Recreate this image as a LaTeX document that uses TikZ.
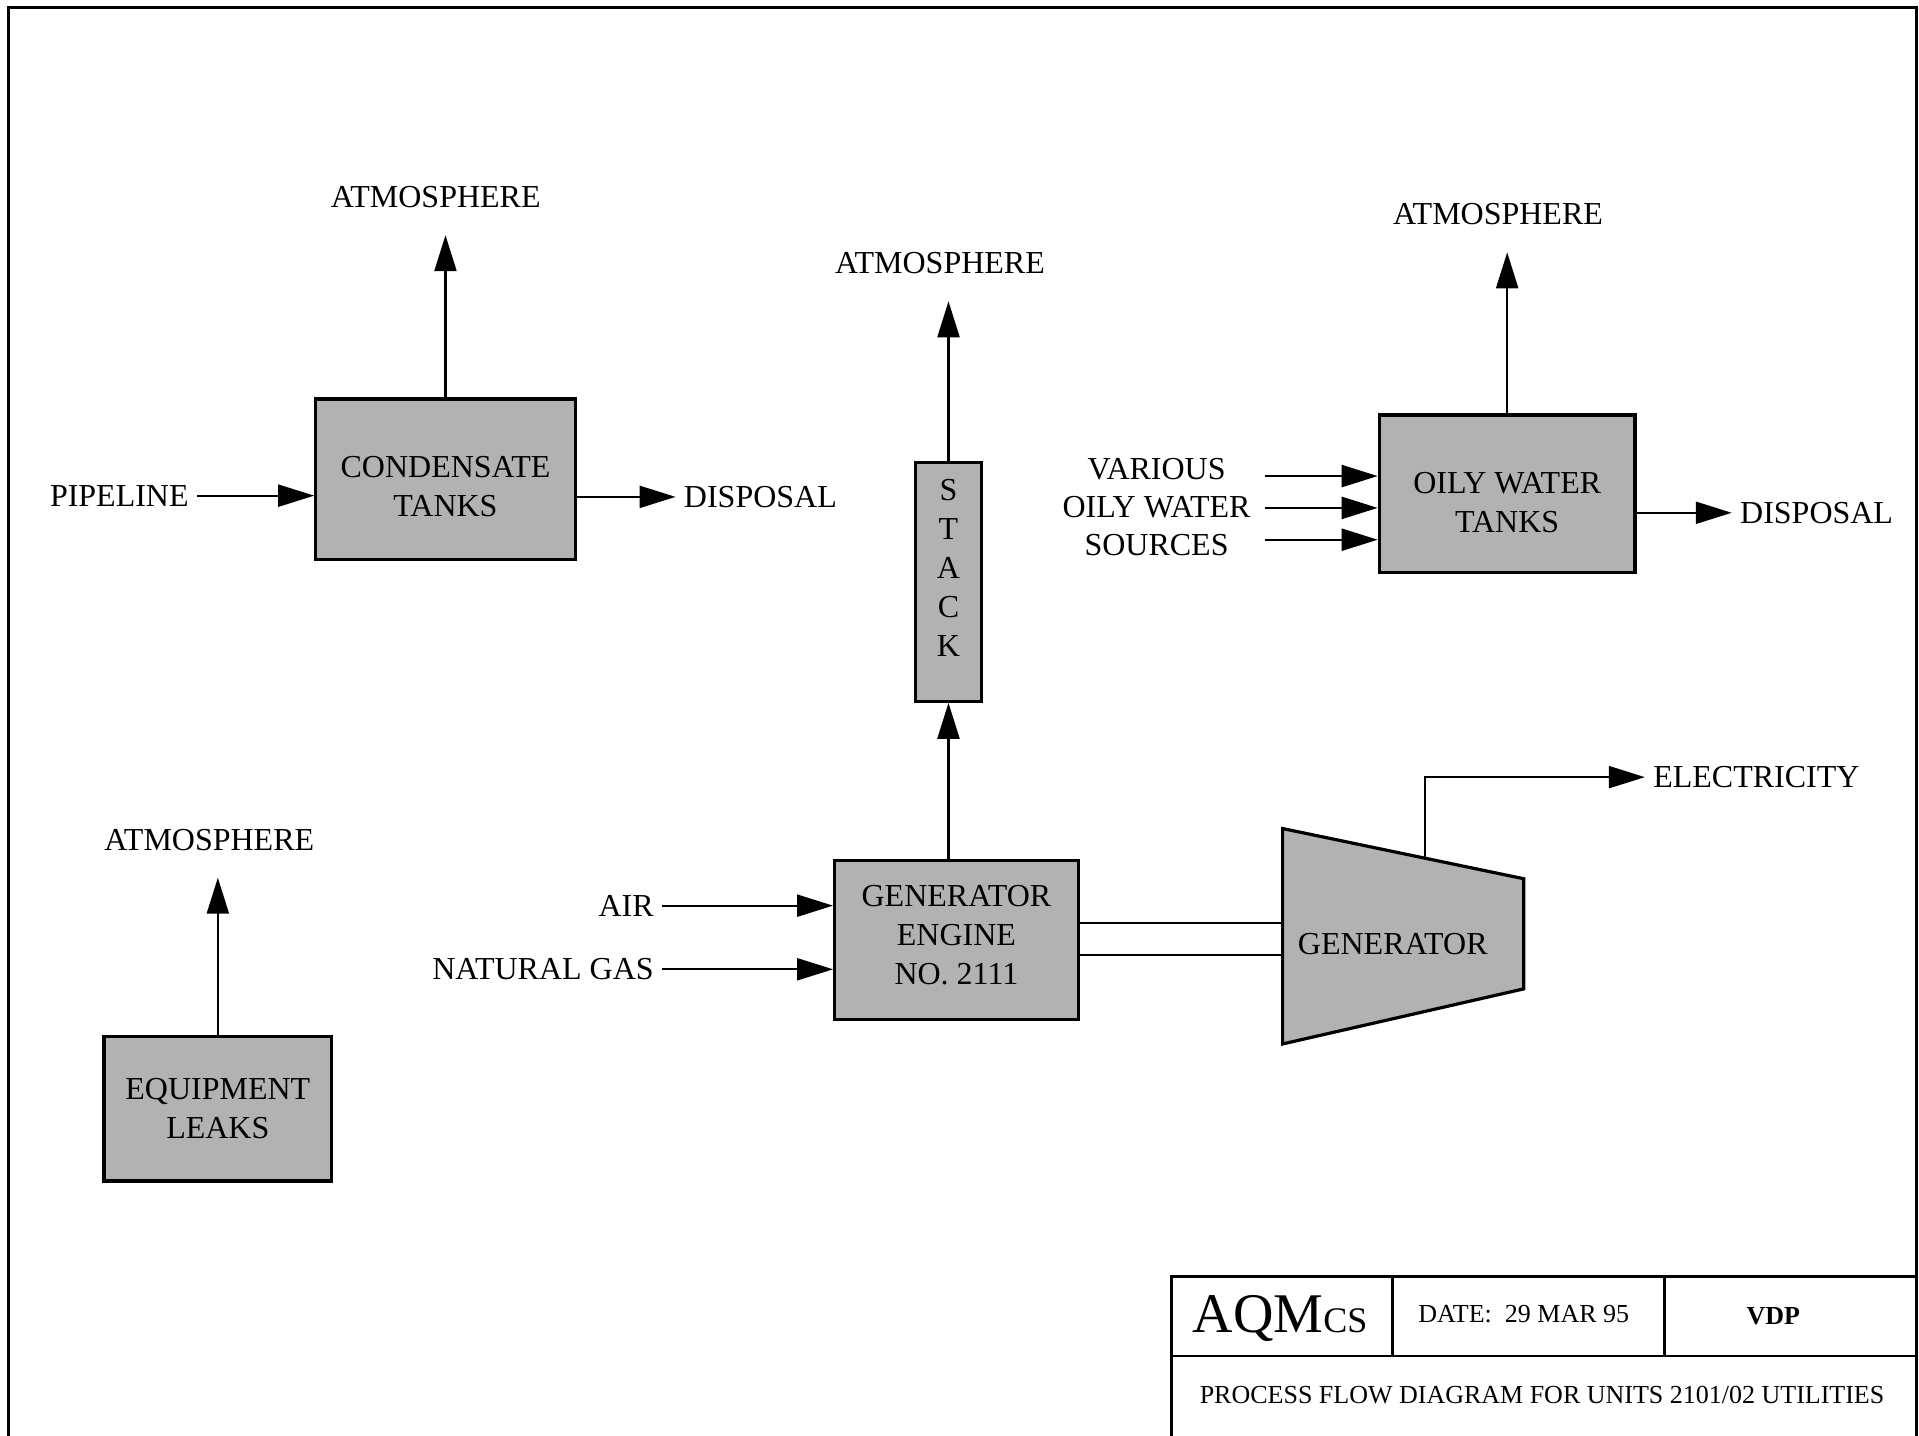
\documentclass[tikz,border=0pt]{standalone}
\usepackage{fontspec}
\setmainfont{Liberation Serif}
\usetikzlibrary{arrows.meta}
\usetikzlibrary{positioning}
\usetikzlibrary{calc}

\newcommand{\lbl}{\fontsize{16}{19.5}\selectfont}
\newcommand{\tblk}{\fontsize{13}{15}\selectfont}

\tikzset{
  unit/.style={draw, line width=1.6pt, fill=black!30, align=center, inner sep=0pt, font=\lbl},
  tag/.style={font=\lbl, inner xsep=4pt, inner ysep=2pt, align=center},
  flow/.style={-{Triangle[length=18pt,width=11pt]}, line width=1.1pt},
  up/.style={flow, shorten >=11.5pt},
  shaft/.style={line width=1.1pt},
  rule/.style={line width=1.3pt}
}

\begin{document}
\begin{tikzpicture}[x=0.612pt, y=-0.612pt]
\useasboundingbox (0,0) rectangle (1568,1173);
\draw[rule] (7,1173) -- (7,6) -- (1566,6) -- (1566,1173);

% condensate tanks
\node[unit, minimum width=129.7pt, minimum height=80.2pt, text height=37.5pt] (cond) at (364,391.5) {CONDENSATE\\TANKS};
\node[tag] (atmA) at (356,161) {ATMOSPHERE};
\node[tag, anchor=east] (pipe) at (161,405) {PIPELINE};
\node[tag, anchor=west] (dispA) at (552,406) {DISPOSAL};
\draw[up] (cond.north) -- (cond.north |- atmA.south);
\draw[flow] (pipe.east) -- (pipe.east -| cond.west);
\draw[flow] (cond.east |- dispA.west) -- (dispA.west);

% engine and stack
\node[unit, minimum width=33pt, minimum height=119.3pt, text depth=14pt] (stk) at (775,475.5) {S\\T\\A\\C\\K};
\node[unit, minimum width=121.8pt, minimum height=79.6pt, text depth=4.9pt] (eng) at (781.5,768) {GENERATOR\\ENGINE\\NO. 2111};
\node[tag] (atmB) at (768,215) {ATMOSPHERE};
\node[tag, anchor=east] (air) at (541,740) {AIR};
\node[tag, anchor=east] (gas) at (541,792) {NATURAL GAS};
\draw[flow] (stk.south |- eng.north) -- (stk.south);
\draw[up] (stk.north) -- (stk.north |- atmB.south);
\draw[flow] (air.east) -- (air.east -| eng.west);
\draw[flow] (gas.east) -- (gas.east -| eng.west);

% generator
\coordinate (g1) at (1048,677);
\coordinate (g2) at (1245,718);
\coordinate (g3) at (1245,808);
\coordinate (g4) at (1048,853);
\filldraw[line width=1.6pt, fill=black!30] (g1) -- (g2) -- (g3) -- (g4) -- cycle;
\node[font=\lbl] (gen) at (1138,771) {GENERATOR};
\coordinate (sh1) at (1048,754);
\coordinate (sh2) at (1048,780);
\draw[shaft] (eng.east |- sh1) -- (sh1);
\draw[shaft] (eng.east |- sh2) -- (sh2);
\coordinate (gtap) at ($(g1)!0.589!(g2)$);
\node[tag, anchor=west] (elec) at (1344,635) {ELECTRICITY};
\draw[flow] (gtap) |- (elec.west);

% oily water tanks
\node[unit, minimum width=127.9pt, minimum height=78.9pt, text height=39pt] (oily) at (1231.5,403.5) {OILY WATER\\TANKS};
\node[tag, font=\fontsize{16}{19}\selectfont] (src) at (945,414) {VARIOUS\\OILY WATER\\SOURCES};
\node[tag] (atmC) at (1224,175) {ATMOSPHERE};
\node[tag, anchor=west] (dispB) at (1415,419) {DISPOSAL};
\foreach \yy [count=\i] in {-25,1,27} {
  \coordinate (s\i) at ([shift={(5,\yy)}]src.east);
  \draw[flow] (s\i) -- (s\i -| oily.west);
}
\draw[up] (oily.north) -- (oily.north |- atmC.south);
\draw[flow] (oily.east |- dispB.west) -- (dispB.west);

% equipment leaks
\node[unit, minimum width=113.8pt, minimum height=72.2pt] (leak) at (178,906) {EQUIPMENT\\LEAKS};
\node[tag] (atmD) at (171,686) {ATMOSPHERE};
\draw[up] (leak.north) -- (leak.north |- atmD.south);

% title block
\draw[rule] (957,1173) -- (957,1043) -- (1566,1043);
\draw[rule] (957,1108) -- (1566,1108);
\draw[rule] (1138,1043) -- (1138,1108);
\draw[rule] (1360,1043) -- (1360,1108);
\node[anchor=base, inner sep=0pt] (logo) at (1046,1089) {\fontsize{28}{30}\selectfont AQM{\fontsize{18}{20}\selectfont CS}};
\node[anchor=base, inner sep=0pt, font=\tblk] (date) at (1245,1081) {DATE:\ \ 29 MAR 95};
\node[anchor=base, inner sep=0pt, font=\tblk\bfseries] (init) at (1449,1082) {VDP};
\node[anchor=base, inner sep=0pt, font=\tblk] (caption) at (1260,1147) {PROCESS FLOW DIAGRAM FOR UNITS 2101/02 UTILITIES};
\end{tikzpicture}
\end{document}
